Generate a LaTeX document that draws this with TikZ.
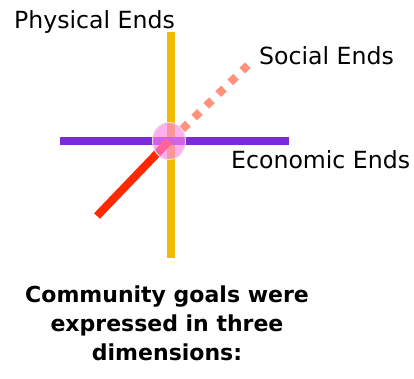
\documentclass[tikz,border=0pt]{standalone}
\usepackage{fontspec}
\setmainfont{DejaVu Sans}
\definecolor{axisyellow}{RGB}{242,186,0}
\definecolor{axispurple}{RGB}{124,44,214}
\definecolor{axisred}{RGB}{255,40,0}
\definecolor{axissalmon}{RGB}{255,145,125}
\definecolor{hubpink}{RGB}{255,130,235}
\begin{document}
\begin{tikzpicture}[x=1pt,y=-1pt,
  axisline/.style={line width=8pt},
  endlabel/.style={font=\fontsize{23.6}{28}\selectfont, inner sep=0pt, anchor=base west},
  caption/.style={font=\fontsize{22}{29}\selectfont\bfseries, inner sep=0pt, align=center, anchor=base}]
\useasboundingbox (0,0) rectangle (414,378);

% axis end points
\coordinate (ytop) at (170.5,32);
\coordinate (ybot) at (170.5,258);
\coordinate (xl) at (60,141);
\coordinate (xr) at (289,141);
\coordinate (zl) at (97,216);
\coordinate (hub) at (169,141);
\coordinate (zs) at (182.2,129.3);
\coordinate (ze) at (247.8,65.2);

% the three dimensions
\draw[axisline, axisyellow] (ytop) -- (ybot);
\draw[axisline, axispurple] (xl) -- (xr);
\draw[axisline, axisred] (zl) -- (hub);
\draw[axisline, axissalmon, dash pattern=on 8pt off 8.8pt] (zs) -- (ze);

% origin marker
\draw[draw=black!12, line width=1pt, fill=hubpink, fill opacity=0.65]
  (hub) ellipse [x radius=16.5pt, y radius=18.5pt];

% labels
\node[endlabel] (phys) at (14,28) {Physical Ends};
\node[endlabel] (soc) at (259,64) {Social Ends};
\node[endlabel] (eco) at (231,168) {Economic Ends};

% the last line of the caption sits on the node's base
\node[caption] (cap) at (167,360) {Community goals were\\expressed in three\\dimensions:};
\end{tikzpicture}
\end{document}
